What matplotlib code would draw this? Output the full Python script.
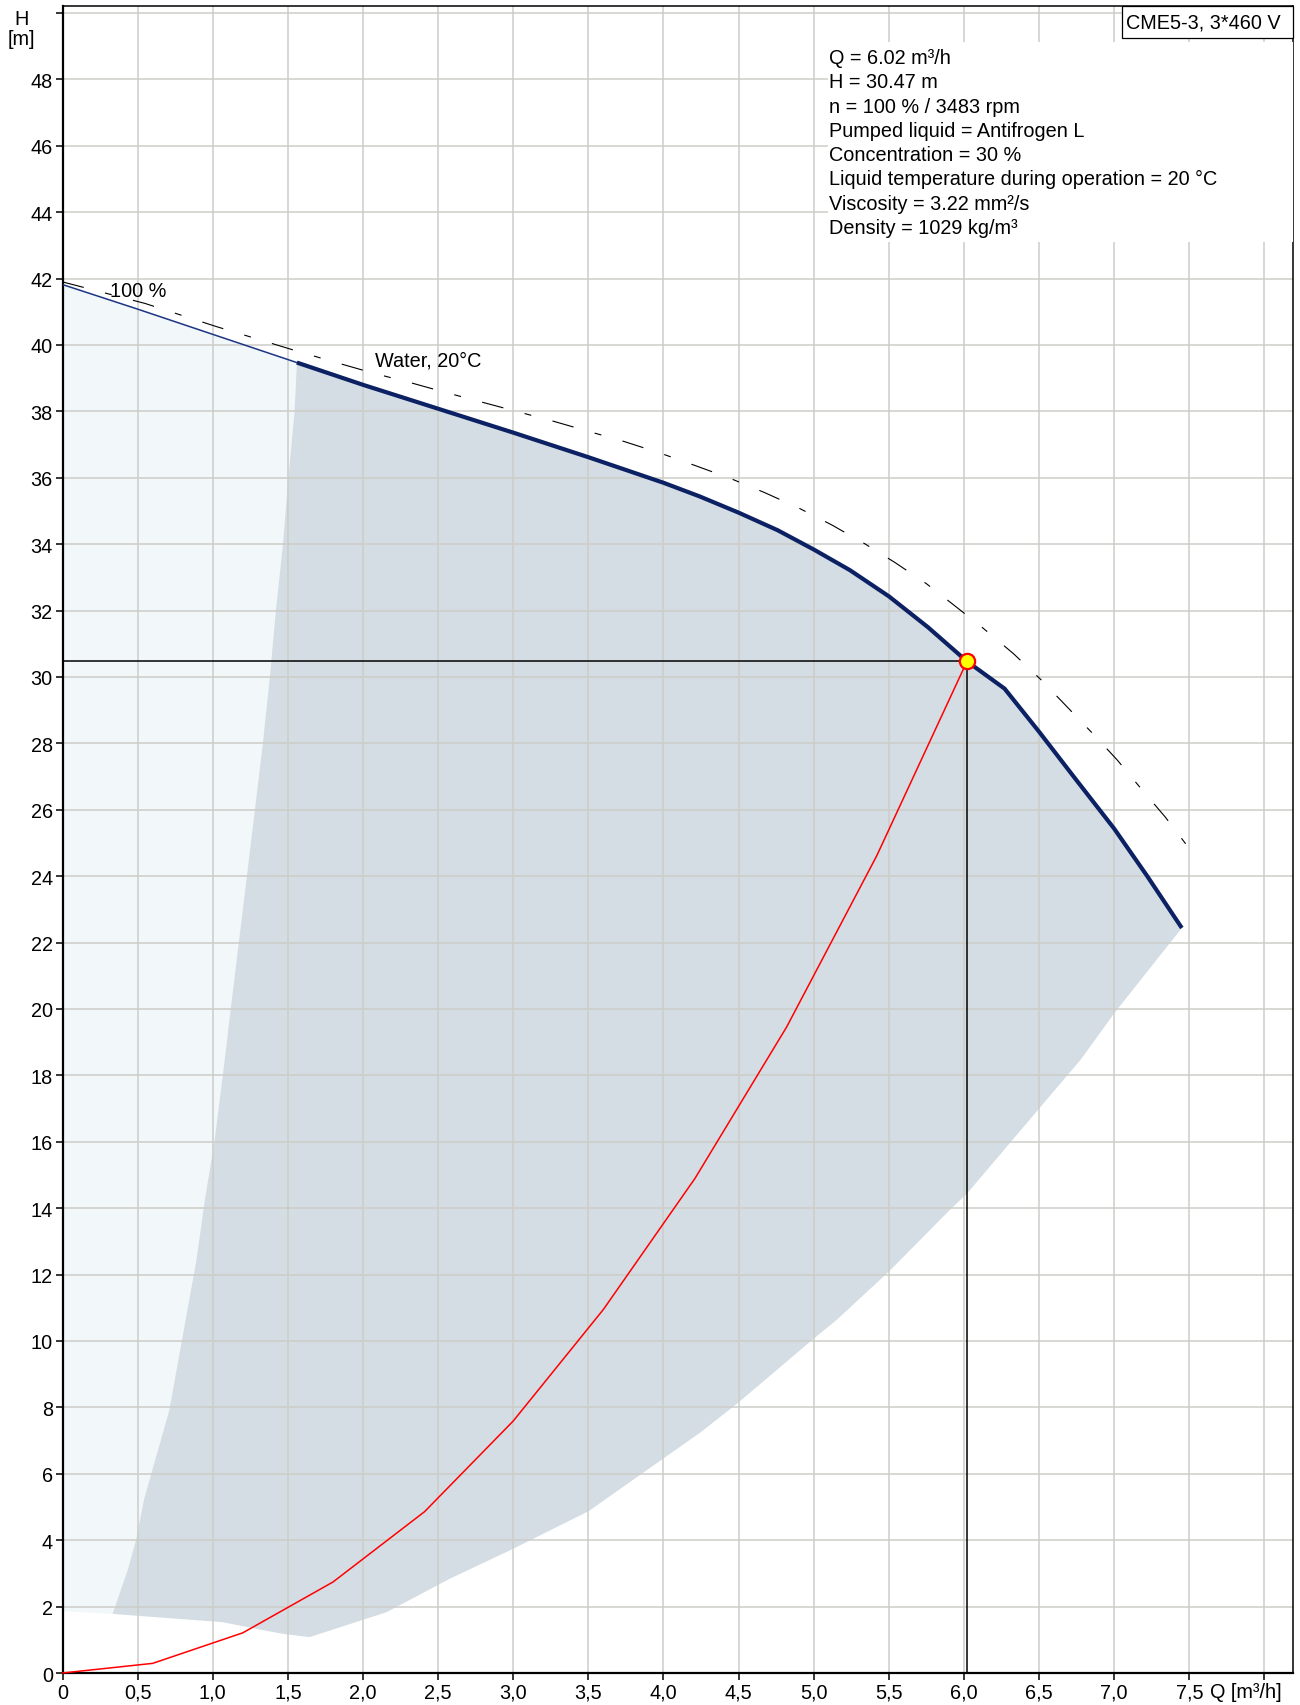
import numpy as np
import matplotlib
matplotlib.use("Agg")
import matplotlib.pyplot as plt
from matplotlib.patches import Rectangle

plt.rcParams['font.family'] = ['Liberation Sans', 'DejaVu Sans']
plt.rcParams['lines.scale_dashes'] = False

# Pump curve (Antifrogen L 30 %), thin up to Q=1.56, thick after
pump_q = [0, 0.5, 1.0, 1.56, 2.0, 2.5, 3.0, 3.5, 3.76, 4.0, 4.24, 4.5, 4.76, 5.0, 5.24, 5.5, 5.76,
          6.02, 6.27, 6.5, 6.73, 7.0, 7.22, 7.45]
pump_h = [41.82, 41.08, 40.32, 39.47, 38.8, 38.08, 37.36, 36.62, 36.22, 35.85, 35.44, 34.95, 34.42,
          33.84, 33.22, 32.43, 31.5, 30.47, 29.65, 28.35, 27.0, 25.43, 24.0, 22.44]
THICK_FROM = 3

# Water 20 degC reference curve (dashed)
water_q = [0, 0.55, 1.02, 1.55, 1.83, 2.07, 2.32, 2.55, 2.79, 3.03, 3.27, 3.5, 3.74, 3.98, 4.21, 4.44, 4.67, 4.9, 5.12, 5.33, 5.54, 5.75, 5.94, 6.13, 6.33, 6.51, 6.68, 6.85, 7.02, 7.18, 7.34, 7.49]
water_h = [41.9, 41.25, 40.56, 39.83, 39.46, 39.15, 38.86, 38.57, 38.28, 37.99, 37.7, 37.4, 37.09, 36.74, 36.37, 35.99, 35.56, 35.09, 34.58, 34.04, 33.45, 32.81, 32.14, 31.46, 30.7, 29.93, 29.13, 28.33, 27.5, 26.63, 25.78, 24.89]

# System curve (red)
sys_q = [0, 0.6, 1.2, 1.8, 2.41, 3.0, 3.6, 4.21, 4.82, 5.42, 6.02]
sys_h = [0, 0.29, 1.21, 2.74, 4.86, 7.59, 10.95, 14.9, 19.46, 24.62, 30.47]

# Duty point
duty_q = 6.02
duty_h = 30.47

# Operating range (dark area): left edge bottom->top, lower edge right->left
range_left_q = [0.333, 0.433, 0.489, 0.544, 0.71, 0.89, 0.949, 1.011, 1.067, 1.12, 1.227, 1.333, 1.38, 1.42, 1.467, 1.504, 1.544, 1.56]
range_left_h = [1.78, 3.09, 4.0, 5.26, 7.9, 12.4, 14.3, 16.0, 18.0, 20.02, 24.0, 27.98, 30.0, 32.0, 34.0, 36.02, 37.98, 39.47]
range_low_q = [7.45, 7.0, 6.778, 6.5, 6.022, 5.889, 5.5, 5.156, 5.0, 4.489, 4.244, 3.5, 2.99, 2.578, 2.156, 1.644, 1.467, 1.289, 1.067, 0.333]
range_low_h = [22.44, 19.87, 18.48, 17.0, 14.45, 13.87, 12.09, 10.65, 10.07, 8.11, 7.24, 4.87, 3.72, 2.84, 1.83, 1.08, 1.18, 1.33, 1.53, 1.78]
light_floor_h = 1.86

x_ticks = np.arange(0, 8.01, 0.5)
x_labels = ["0", "0,5", "1,0", "1,5", "2,0", "2,5", "3,0", "3,5", "4,0", "4,5", "5,0", "5,5", "6,0", "6,5", "7,0", "7,5", ""]
y_ticks = np.arange(0, 50.1, 2)
y_labels = [str(v) for v in range(0, 49, 2)] + [""]

info_lines = [
    "Q = 6.02 m³/h",
    "H = 30.47 m",
    "n = 100 % / 3483 rpm",
    "Pumped liquid = Antifrogen L",
    "Concentration = 30 %",
    "Liquid temperature during operation = 20 °C",
    "Viscosity = 3.22 mm²/s",
    "Density = 1029 kg/m³",
]

FS = 14.3
fig = plt.figure(figsize=(13, 17.06), dpi=100)
ax = fig.add_axes([0.04808, 0.018757, 0.94654, 0.97714])
ax.set_xlim(0, 8.19)
ax.set_ylim(0, 50.21)

# shaded areas
light_q = [0] + pump_q[:THICK_FROM + 1] + range_left_q[::-1]
light_h = [light_floor_h] + pump_h[:THICK_FROM + 1] + range_left_h[::-1]
ax.fill(light_q, light_h, color="#f2f7fa", lw=0, zorder=0.2)
dark_q = pump_q[THICK_FROM:] + range_low_q[1:] + range_left_q[1:]
dark_h = pump_h[THICK_FROM:] + range_low_h[1:] + range_left_h[1:]
ax.fill(dark_q, dark_h, color="#d4dde4", lw=0, zorder=0.3)

# curves
wl, = ax.plot(water_q, water_h, color="black", lw=0.8, zorder=3)
wl.set_dashes([15.8, 15.8, 5.0, 15.8])
ax.plot(pump_q[:THICK_FROM + 1], pump_h[:THICK_FROM + 1], color="#1c3585", lw=1.1, zorder=4)
ax.plot(pump_q[THICK_FROM:], pump_h[THICK_FROM:], color="#0c2163", lw=3.0, zorder=4,
        solid_capstyle="butt", solid_joinstyle="round")
ax.plot(sys_q, sys_h, color="#ff0000", lw=1.1, zorder=4, clip_on=False)
ax.plot([0, duty_q], [duty_h, duty_h], color="black", lw=1.1, zorder=4)
ax.plot([duty_q, duty_q], [0, duty_h], color="black", lw=1.1, zorder=4)
ax.plot(duty_q, duty_h, "o", ms=11, mfc="#ffff00", mec="#ff0000", mew=1.6, zorder=6)

ax.text(0.316, 41.64, "100 %", fontsize=FS, va="center", zorder=5)
ax.text(2.08, 39.54, "Water, 20°C", fontsize=FS, va="center", zorder=5)

# axes styling
ax.set_xticks(x_ticks)
ax.set_xticklabels(x_labels)
ax.set_yticks(y_ticks)
ax.set_yticklabels(y_labels)
ax.tick_params(direction="out", length=5, width=1.1, labelsize=FS, pad=2, colors="black")
ax.grid(True, color="#cdcdc8", lw=1.1)
ax.set_axisbelow(True)
for side in ["left", "bottom"]:
    ax.spines[side].set_linewidth(1.6)
for side in ["top", "right"]:
    ax.spines[side].set_linewidth(1.1)

# info block
ax.add_patch(Rectangle((0.622, 0.8584), 0.378, 0.12, transform=ax.transAxes,
                       fc="white", ec="none", zorder=3))
for i, line in enumerate(info_lines):
    y_px = 58.6 + i * 24.25
    ax.text(0.623, (1674 - y_px) / 1667, line, transform=ax.transAxes,
            fontsize=FS, va="center", ha="left", zorder=5)

ax.add_patch(Rectangle((0.8608, 0.9808), 0.1392, 0.0192, transform=ax.transAxes,
                       fc="white", ec="black", lw=0.9, zorder=4, clip_on=False))
ax.text(0.927, 0.9904, "CME5-3, 3*460 V", transform=ax.transAxes, fontsize=FS,
        ha="center", va="center", zorder=5)

# axis titles
fig.text(0.01654, 0.98886, "H", fontsize=FS, ha="center", va="center")
fig.text(0.0162, 0.97696, "[m]", fontsize=FS, ha="center", va="center")
fig.text(0.9585, 0.0082, "Q [m³/h]", fontsize=FS, ha="center", va="center")

fig.savefig("out.png", dpi=100)
